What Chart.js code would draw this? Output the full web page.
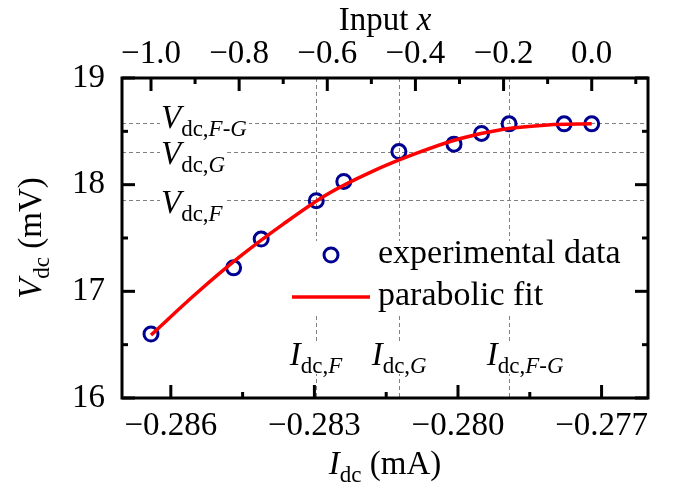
<!DOCTYPE html>
<html>
<head>
<meta charset="utf-8">
<script src="https://cdn.jsdelivr.net/npm/chart.js@4.4.1/dist/chart.umd.min.js"></script>
<style>
  body { margin: 0; background: #fff; }
  #myChart { display: block; }
</style>
</head>
<body>
<canvas id="myChart" width="673" height="493"></canvas>
<script>
// experimental points: input x (top axis) and V_dc in mV
const inputX = [-1.0, -0.8125, -0.75, -0.625, -0.5625, -0.4375, -0.3125, -0.25, -0.1875, -0.0625, 0.0];
const vdc = [16.60, 17.22, 17.49, 17.85, 18.03, 18.31, 18.38, 18.48, 18.57, 18.57, 18.57];

// points read along the red parabolic fit
const fitX = [-1.0, -0.9, -0.8, -0.7, -0.6, -0.5, -0.4, -0.3, -0.2, -0.1, 0.0];
const fitV = [16.59, 16.97, 17.32, 17.63, 17.91, 18.12, 18.29, 18.43, 18.52, 18.56, 18.57];

// dashed reference levels
const vRefs = [18.577, 18.302, 17.853];
const vRefSubs = ['dc,F-G', 'dc,G', 'dc,F'];
const iRefs = [-0.28297, -0.28124, -0.27894];
const iRefSubs = ['dc,F', 'dc,G', 'dc,F-G'];

// axis ticks
const iTicks = [-0.286, -0.283, -0.280, -0.277];
const iTickLabels = ['\u22120.286', '\u22120.283', '\u22120.280', '\u22120.277'];
const iMinor = [-0.2845, -0.2815, -0.2785];
const xTicks = [-1.0, -0.8, -0.6, -0.4, -0.2, 0.0];
const xTickLabels = ['\u22121.0', '\u22120.8', '\u22120.6', '\u22120.4', '\u22120.2', '0.0'];
const xMinor = [-0.9, -0.7, -0.5, -0.3, -0.1, 0.1];
const vTicks = [16, 17, 18, 19];
const vTickLabels = ['16', '17', '18', '19'];
const vMinor = [16.5, 17.5, 18.5];

const FONT = '"Liberation Serif", "Times New Roman", serif';
const BIG = 33;
const SMALL = 23;

// main letter in italics + subscript, capitals in the subscript in italics too
function richParts(main, sub, rest) {
  const parts = [{t: main, it: true, sub: false}];
  for (const ch of sub) parts.push({t: ch, it: /[A-Z]/.test(ch), sub: true});
  if (rest) parts.push({t: rest, it: false, sub: false});
  return parts;
}

function fontFor(p) {
  return (p.it ? 'italic ' : '') + (p.sub ? SMALL : BIG) + 'px ' + FONT;
}

function richWidth(ctx, parts) {
  let w = 0;
  parts.forEach(p => { ctx.font = fontFor(p); w += ctx.measureText(p.t).width; });
  return w;
}

function clearBox(ctx, parts, x, y) {
  const w = richWidth(ctx, parts);
  ctx.fillStyle = '#fff';
  ctx.fillRect(x - 1, y - 21, w + 3, 30);
}

function drawRich(ctx, parts, x, y) {
  ctx.textBaseline = 'alphabetic';
  ctx.textAlign = 'left';
  ctx.fillStyle = '#000';
  let cx = x;
  parts.forEach(p => {
    ctx.font = fontFor(p);
    ctx.fillText(p.t, cx, p.sub ? y + 8 : y);
    cx += ctx.measureText(p.t).width;
  });
}

// label offsets from their dashed line
const vLabelDy = [5, 12, 13];
const iLabelDx = [-26, -27, -22];

const decorations = {
  id: 'decorations',
  beforeDatasetsDraw(chart) {
    const {ctx, chartArea: a, scales} = chart;
    ctx.save();
    ctx.strokeStyle = '#808080';
    ctx.lineWidth = 1;
    ctx.setLineDash([4, 3]);
    vRefs.forEach(v => {
      const y = Math.round(scales.y.getPixelForValue(v)) + 0.5;
      ctx.beginPath(); ctx.moveTo(a.left, y); ctx.lineTo(a.right, y); ctx.stroke();
    });
    iRefs.forEach(v => {
      const x = Math.round(scales.x.getPixelForValue(v)) + 0.5;
      ctx.beginPath(); ctx.moveTo(x, a.top); ctx.lineTo(x, a.bottom); ctx.stroke();
    });
    ctx.setLineDash([]);
    const labels = [];
    vRefs.forEach((v, i) => {
      labels.push([richParts('V', vRefSubs[i]), 161, scales.y.getPixelForValue(v) + vLabelDy[i]]);
    });
    iRefs.forEach((v, i) => {
      labels.push([richParts('I', iRefSubs[i]), scales.x.getPixelForValue(v) + iLabelDx[i], 365]);
    });
    labels.forEach(l => clearBox(ctx, l[0], l[1], l[2]));
    labels.forEach(l => drawRich(ctx, l[0], l[1], l[2]));
    ctx.restore();
  },
  afterDatasetsDraw(chart) {
    const {ctx, chartArea: a, scales} = chart;
    const ds = chart.data.datasets;
    ctx.save();
    // legend
    ctx.fillStyle = '#fff';
    ctx.fillRect(286, 241, 345, 73);
    ctx.strokeStyle = ds[1].borderColor;
    ctx.lineWidth = ds[1].pointBorderWidth;
    ctx.beginPath(); ctx.arc(331, 255, ds[1].pointRadius, 0, Math.PI * 2); ctx.stroke();
    ctx.strokeStyle = ds[0].borderColor;
    ctx.lineWidth = ds[0].borderWidth;
    ctx.beginPath(); ctx.moveTo(292, 297); ctx.lineTo(370, 297); ctx.stroke();
    ctx.fillStyle = '#000';
    ctx.font = '34px ' + FONT;
    ctx.textBaseline = 'middle';
    ctx.fillText(ds[1].label, 378, 254);
    ctx.fillText(ds[0].label, 378, 296);

    // frame and inward ticks
    ctx.strokeStyle = '#000';
    ctx.lineWidth = 3;
    ctx.strokeRect(a.left, a.top, a.right - a.left, a.bottom - a.top);
    const tick = (x1, y1, x2, y2) => { ctx.beginPath(); ctx.moveTo(x1, y1); ctx.lineTo(x2, y2); ctx.stroke(); };
    iTicks.forEach(v => { const x = scales.x.getPixelForValue(v); tick(x, a.bottom, x, a.bottom - 13); });
    iMinor.forEach(v => { const x = scales.x.getPixelForValue(v); tick(x, a.bottom, x, a.bottom - 6); });
    xTicks.forEach(v => { const x = scales.x2.getPixelForValue(v); tick(x, a.top, x, a.top + 13); });
    xMinor.forEach(v => { const x = scales.x2.getPixelForValue(v); tick(x, a.top, x, a.top + 6); });
    vTicks.forEach(v => {
      const y = scales.y.getPixelForValue(v);
      tick(a.left, y, a.left + 13, y); tick(a.right, y, a.right - 13, y);
    });
    vMinor.forEach(v => {
      const y = scales.y.getPixelForValue(v);
      tick(a.left, y, a.left + 6, y); tick(a.right, y, a.right - 6, y);
    });

    // axis titles
    const topParts = [{t: 'Input ', it: false, sub: false}, {t: 'x', it: true, sub: false}];
    const tw = richWidth(ctx, topParts);
    drawRich(ctx, topParts, (a.left + a.right) / 2 - tw / 2, 30);
    const botParts = richParts('I', 'dc', ' (mA)');
    const bw = richWidth(ctx, botParts);
    drawRich(ctx, botParts, (a.left + a.right) / 2 - bw / 2, 474);
    const leftParts = richParts('V', 'dc', ' (mV)');
    const lw = richWidth(ctx, leftParts);
    ctx.translate(41, (a.top + a.bottom) / 2);
    ctx.rotate(-Math.PI / 2);
    drawRich(ctx, leftParts, -lw / 2, 0);
    ctx.restore();
  }
};

const tickFont = {family: FONT, size: BIG};

new Chart(document.getElementById('myChart'), {
  type: 'scatter',
  data: {
    datasets: [
      {
        label: 'parabolic fit',
        type: 'line',
        data: fitX.map((x, i) => ({x: x, y: fitV[i]})),
        xAxisID: 'x2',
        yAxisID: 'y',
        borderColor: '#ff0000',
        borderWidth: 3.5,
        pointRadius: 0,
        cubicInterpolationMode: 'monotone',
        fill: false
      },
      {
        label: 'experimental data',
        data: inputX.map((x, i) => ({x: x, y: vdc[i]})),
        xAxisID: 'x2',
        yAxisID: 'y',
        borderColor: '#000090',
        backgroundColor: 'rgba(0,0,0,0)',
        pointRadius: 7,
        pointBorderWidth: 3,
        pointBorderColor: '#000090',
        pointBackgroundColor: 'rgba(0,0,0,0)',
        showLine: false
      }
    ]
  },
  options: {
    responsive: false,
    animation: false,
    layout: {padding: 0},
    plugins: {legend: {display: false}, tooltip: {enabled: false}},
    scales: {
      x: {
        type: 'linear', position: 'bottom',
        min: -0.28702, max: -0.27603,
        grid: {display: false, drawTicks: false},
        border: {display: false},
        afterBuildTicks: axis => { axis.ticks = iTicks.map(v => ({value: v})); },
        ticks: {font: tickFont, color: '#000', padding: 9, maxRotation: 0,
                callback: (v, i) => iTickLabels[i]},
        afterFit: s => { s.height = 95; }
      },
      x2: {
        type: 'linear', position: 'top',
        min: -1.0658, max: 0.1277,
        grid: {display: false, drawTicks: false},
        border: {display: false},
        afterBuildTicks: axis => { axis.ticks = xTicks.map(v => ({value: v})); },
        ticks: {font: tickFont, color: '#000', padding: 4, maxRotation: 0,
                callback: (v, i) => xTickLabels[i]},
        afterFit: s => { s.height = 78; }
      },
      y: {
        type: 'linear', position: 'left',
        min: 16, max: 19,
        grid: {display: false, drawTicks: false},
        border: {display: false},
        afterBuildTicks: axis => { axis.ticks = vTicks.map(v => ({value: v})); },
        ticks: {font: tickFont, color: '#000', padding: 17,
                callback: (v, i) => vTickLabels[i]},
        afterFit: s => { s.width = 122; }
      },
      y2: {
        type: 'linear', position: 'right',
        min: 16, max: 19,
        grid: {display: false, drawTicks: false},
        border: {display: false},
        ticks: {display: false},
        afterFit: s => { s.width = 25; }
      }
    }
  },
  plugins: [decorations]
});
</script>
</body>
</html>
